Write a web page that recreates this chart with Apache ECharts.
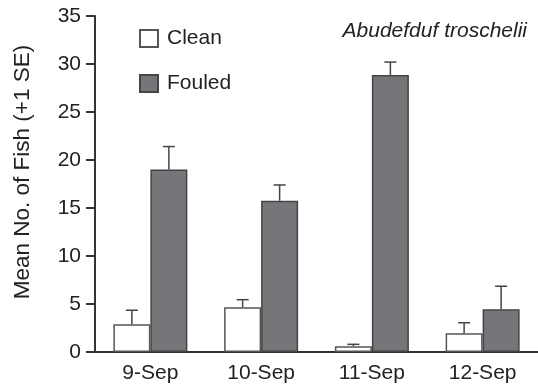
<!DOCTYPE html>
<html><head><meta charset="utf-8">
<script src="https://cdn.jsdelivr.net/npm/echarts@6/dist/echarts.min.js"></script>
<style>html,body{margin:0;padding:0;background:#fff}#c{width:538px;height:389px}</style>
</head><body><div id="c"></div>
<script>
const categories = ['9-Sep', '10-Sep', '11-Sep', '12-Sep'];
const cleanMean = [2.9, 4.65, 0.6, 1.95];
const cleanUpper = [4.35, 5.45, 0.8, 3.05];
const fouledMean = [19.0, 15.75, 28.85, 4.45];
const fouledUpper = [21.4, 17.4, 30.2, 6.85];
const yTicks = [0, 5, 10, 15, 20, 25, 30, 35];

const FONT = 'Liberation Sans, Arial, sans-serif';
const BAR_W = 37;
function errItem(offsetSign) {
  return function (params, api) {
    const idx = api.value(0);
    const base = api.coord([idx, api.value(1)]);
    const top = api.coord([idx, api.value(2)]);
    const x = base[0] + offsetSign * BAR_W / 2;
    const cap = 6;
    return {
      type: 'group',
      children: [
        { type: 'line', shape: { x1: x, y1: base[1], x2: x, y2: top[1] }, style: { stroke: '#444', lineWidth: 1.5 } },
        { type: 'line', shape: { x1: x - cap, y1: top[1], x2: x + cap, y2: top[1] }, style: { stroke: '#444', lineWidth: 1.5 } }
      ]
    };
  };
}
const chart = echarts.init(document.getElementById('c'));
chart.setOption({
  animation: false,
  title: { text: 'Abudefduf troschelii', right: 6, top: 16,
    textStyle: { fontFamily: FONT, fontSize: 21, fontStyle: 'italic', fontWeight: 'normal', color: '#222' } },
  legend: { orient: 'vertical', left: 134, top: 23, itemWidth: 18, itemHeight: 17, itemGap: 24,
    icon: 'rect', textStyle: { fontFamily: FONT, fontSize: 21, color: '#222', padding: [0, 0, 0, 4] }, data: ['Clean', 'Fouled'] },
  grid: { left: 95, top: 16, width: 452, bottom: 37 },
  xAxis: {
    type: 'category', data: categories,
    axisLine: { lineStyle: { color: '#333', width: 2 } },
    axisTick: { length: 10, lineStyle: { color: '#333', width: 2 }, interval: function (i) { return i !== 0; } },
    axisLabel: { fontFamily: FONT, fontSize: 21, color: '#222', margin: 11 }
  },
  yAxis: {
    type: 'value', min: yTicks[0], max: yTicks[yTicks.length - 1], interval: 5,
    name: 'Mean No. of Fish (+1 SE)', nameLocation: 'middle', nameGap: 61,
    nameTextStyle: { fontFamily: FONT, fontSize: 22.5, color: '#222', padding: [0, 0, 0, 24] },
    splitLine: { show: false },
    axisLine: { show: true, lineStyle: { color: '#333', width: 2 } },
    axisTick: { show: true, length: 9, lineStyle: { color: '#333', width: 2 } },
    axisLabel: { fontFamily: FONT, fontSize: 21, color: '#222', margin: 14 }
  },
  series: [
    { name: 'Clean', type: 'bar', data: cleanMean, barWidth: BAR_W, barGap: '0%',
      itemStyle: { color: '#ffffff', borderColor: '#555', borderWidth: 1.5 } },
    { name: 'Fouled', type: 'bar', data: fouledMean, barWidth: BAR_W, barGap: '0%',
      itemStyle: { color: '#76767a', borderColor: '#444', borderWidth: 1.5 } },
    { type: 'custom', renderItem: errItem(-1), z: 1,
      data: cleanMean.map((v, i) => [i, v, cleanUpper[i]]) },
    { type: 'custom', renderItem: errItem(1), z: 1,
      data: fouledMean.map((v, i) => [i, v, fouledUpper[i]]) }
  ]
});
</script></body></html>
